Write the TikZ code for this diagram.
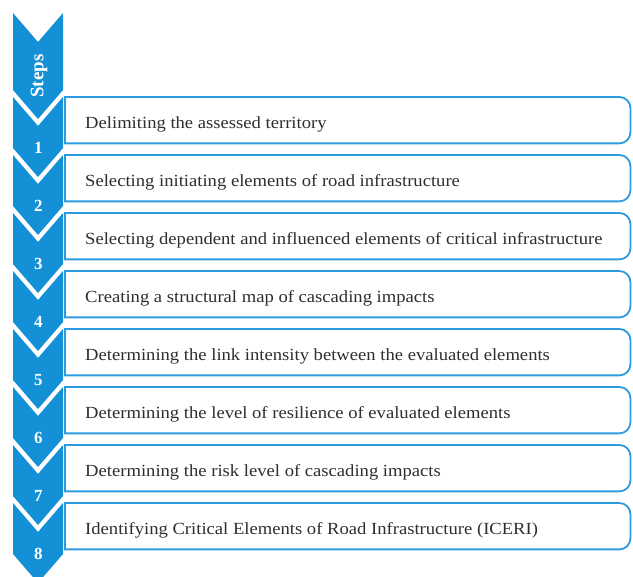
\documentclass[tikz,border=0pt]{standalone}
\usepackage{fontspec}
\setmainfont{Liberation Serif}
\newfontfamily\boxfont[FakeStretch=1.095]{Liberation Serif}
\definecolor{chev}{HTML}{1490D6}
\definecolor{boxc}{HTML}{2A9BDE}
\definecolor{txt}{HTML}{2E2E2E}
\begin{document}
\begin{tikzpicture}[x=1pt,y=-1pt,
  stepbox/.style={minimum width=565pt, minimum height=46pt, inner sep=0pt, anchor=north west},
  steptext/.style={anchor=west, inner sep=0pt, text=txt, font=\boxfont\fontsize{17}{19}\selectfont},
  boxline/.style={draw=boxc, line width=1.8pt},
  numlbl/.style={text=white, font=\fontsize{17}{19}\selectfont\bfseries, inner sep=0pt},
  chevfill/.style={fill=chev}]
\useasboundingbox (0,0) rectangle (633,577);
\clip (0,0) rectangle (633,577);
% Steps segment
\fill[chevfill] (13,13) -- (38,42) -- (63,13) -- (63,90) -- (38,119) -- (13,90) -- cycle;
\node[numlbl, rotate=90, font=\fontsize{19}{21}\selectfont\bfseries] (steps) at (39,76) {Steps};
\foreach \k/\t in {1/{Delimiting the assessed territory},
                   2/{Selecting initiating elements of road infrastructure},
                   3/{Selecting dependent and influenced elements of critical infrastructure},
                   4/{Creating a structural map of cascading impacts},
                   5/{Determining the link intensity between the evaluated elements},
                   6/{Determining the level of resilience of evaluated elements},
                   7/{Determining the risk level of cascading impacts},
                   8/{Identifying Critical Elements of Road Infrastructure (ICERI)}}{
  \pgfmathsetmacro{\S}{97+58*(\k-1)}
  \fill[chevfill] (13,\S) -- (38,\S+29) -- (63,\S) -- (63,\S+51) -- (38,\S+80) -- (13,\S+51) -- cycle;
  \node[numlbl] (n\k) at (38.5,\S+51) {\k};
  \node[stepbox] (b\k) at (65,\S) {};
  \node[steptext] (t\k) at ([xshift=20pt,yshift=-4pt]b\k.west) {\t};
  \draw[boxline] (b\k.south west) -- (b\k.north west) [rounded corners=11pt] -- (b\k.north east) -- (b\k.south east) [sharp corners] -- (b\k.south west) -- cycle;
}
\end{tikzpicture}
\end{document}
